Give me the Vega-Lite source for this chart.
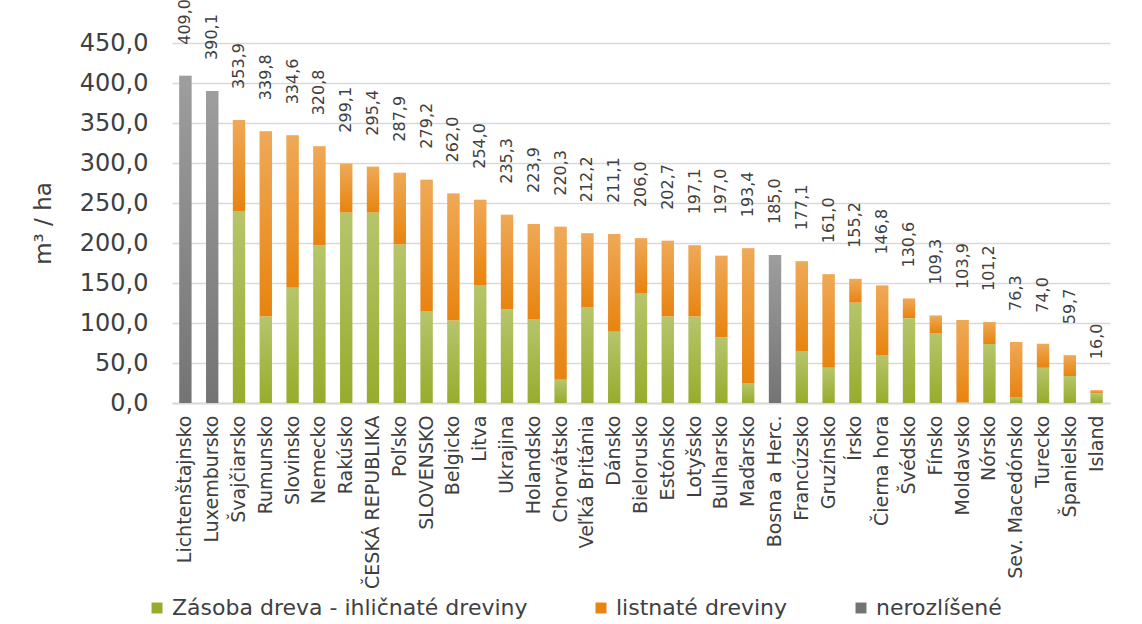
{
  "$schema": "https://vega.github.io/schema/vega-lite/v6.json",
  "width": 938,
  "height": 360,
  "autosize": {"type": "none"},
  "padding": {"left": 172, "top": 43, "right": 32, "bottom": 221},
  "background": "white",
  "config": {
    "font": "DejaVu Sans",
    "view": {"stroke": null},
    "locale": {"number": {"decimal": ",", "thousands": " ", "grouping": [3], "currency": ["", ""]}},
    "axisY": {
      "format": ".1f",
      "titleFontSize": 23,
      "titleFontWeight": "normal",
      "titleColor": "#404040",
      "titlePadding": 24,
      "labelFontSize": 24,
      "labelColor": "#404040",
      "labelPadding": 24,
      "labelOverlap": false,
      "ticks": false,
      "domain": false,
      "gridColor": "#D9D9D9",
      "gridWidth": 1.6
    }
  },
  "datasets": {
    "bars": [
      {"krajina": "Lichtenštajnsko", "typ": "nerozlíšené", "hodnota": 409.0},
      {"krajina": "Luxembursko", "typ": "nerozlíšené", "hodnota": 390.1},
      {"krajina": "Švajčiarsko", "typ": "Zásoba dreva - ihličnaté dreviny", "hodnota": 240.0},
      {"krajina": "Švajčiarsko", "typ": "listnaté dreviny", "hodnota": 113.9},
      {"krajina": "Rumunsko", "typ": "Zásoba dreva - ihličnaté dreviny", "hodnota": 108.0},
      {"krajina": "Rumunsko", "typ": "listnaté dreviny", "hodnota": 231.8},
      {"krajina": "Slovinsko", "typ": "Zásoba dreva - ihličnaté dreviny", "hodnota": 144.0},
      {"krajina": "Slovinsko", "typ": "listnaté dreviny", "hodnota": 190.6},
      {"krajina": "Nemecko", "typ": "Zásoba dreva - ihličnaté dreviny", "hodnota": 197.0},
      {"krajina": "Nemecko", "typ": "listnaté dreviny", "hodnota": 123.8},
      {"krajina": "Rakúsko", "typ": "Zásoba dreva - ihličnaté dreviny", "hodnota": 238.0},
      {"krajina": "Rakúsko", "typ": "listnaté dreviny", "hodnota": 61.1},
      {"krajina": "ČESKÁ REPUBLIKA", "typ": "Zásoba dreva - ihličnaté dreviny", "hodnota": 238.0},
      {"krajina": "ČESKÁ REPUBLIKA", "typ": "listnaté dreviny", "hodnota": 57.4},
      {"krajina": "Poľsko", "typ": "Zásoba dreva - ihličnaté dreviny", "hodnota": 198.0},
      {"krajina": "Poľsko", "typ": "listnaté dreviny", "hodnota": 89.9},
      {"krajina": "SLOVENSKO", "typ": "Zásoba dreva - ihličnaté dreviny", "hodnota": 115.0},
      {"krajina": "SLOVENSKO", "typ": "listnaté dreviny", "hodnota": 164.2},
      {"krajina": "Belgicko", "typ": "Zásoba dreva - ihličnaté dreviny", "hodnota": 103.0},
      {"krajina": "Belgicko", "typ": "listnaté dreviny", "hodnota": 159.0},
      {"krajina": "Litva", "typ": "Zásoba dreva - ihličnaté dreviny", "hodnota": 147.5},
      {"krajina": "Litva", "typ": "listnaté dreviny", "hodnota": 106.5},
      {"krajina": "Ukrajina", "typ": "Zásoba dreva - ihličnaté dreviny", "hodnota": 117.0},
      {"krajina": "Ukrajina", "typ": "listnaté dreviny", "hodnota": 118.3},
      {"krajina": "Holandsko", "typ": "Zásoba dreva - ihličnaté dreviny", "hodnota": 105.0},
      {"krajina": "Holandsko", "typ": "listnaté dreviny", "hodnota": 118.9},
      {"krajina": "Chorvátsko", "typ": "Zásoba dreva - ihličnaté dreviny", "hodnota": 29.0},
      {"krajina": "Chorvátsko", "typ": "listnaté dreviny", "hodnota": 191.3},
      {"krajina": "Veľká Británia", "typ": "Zásoba dreva - ihličnaté dreviny", "hodnota": 120.0},
      {"krajina": "Veľká Británia", "typ": "listnaté dreviny", "hodnota": 92.2},
      {"krajina": "Dánsko", "typ": "Zásoba dreva - ihličnaté dreviny", "hodnota": 89.0},
      {"krajina": "Dánsko", "typ": "listnaté dreviny", "hodnota": 122.1},
      {"krajina": "Bielorusko", "typ": "Zásoba dreva - ihličnaté dreviny", "hodnota": 137.5},
      {"krajina": "Bielorusko", "typ": "listnaté dreviny", "hodnota": 68.5},
      {"krajina": "Estónsko", "typ": "Zásoba dreva - ihličnaté dreviny", "hodnota": 108.0},
      {"krajina": "Estónsko", "typ": "listnaté dreviny", "hodnota": 94.7},
      {"krajina": "Lotyšsko", "typ": "Zásoba dreva - ihličnaté dreviny", "hodnota": 108.0},
      {"krajina": "Lotyšsko", "typ": "listnaté dreviny", "hodnota": 89.1},
      {"krajina": "Bulharsko", "typ": "Zásoba dreva - ihličnaté dreviny", "hodnota": 82.0},
      {"krajina": "Bulharsko", "typ": "listnaté dreviny", "hodnota": 102.0},
      {"krajina": "Maďarsko", "typ": "Zásoba dreva - ihličnaté dreviny", "hodnota": 25.0},
      {"krajina": "Maďarsko", "typ": "listnaté dreviny", "hodnota": 168.4},
      {"krajina": "Bosna a Herc.", "typ": "nerozlíšené", "hodnota": 185.0},
      {"krajina": "Francúzsko", "typ": "Zásoba dreva - ihličnaté dreviny", "hodnota": 65.0},
      {"krajina": "Francúzsko", "typ": "listnaté dreviny", "hodnota": 112.1},
      {"krajina": "Gruzínsko", "typ": "Zásoba dreva - ihličnaté dreviny", "hodnota": 44.0},
      {"krajina": "Gruzínsko", "typ": "listnaté dreviny", "hodnota": 117.0},
      {"krajina": "Írsko", "typ": "Zásoba dreva - ihličnaté dreviny", "hodnota": 125.4},
      {"krajina": "Írsko", "typ": "listnaté dreviny", "hodnota": 29.8},
      {"krajina": "Čierna hora", "typ": "Zásoba dreva - ihličnaté dreviny", "hodnota": 60.0},
      {"krajina": "Čierna hora", "typ": "listnaté dreviny", "hodnota": 86.8},
      {"krajina": "Švédsko", "typ": "Zásoba dreva - ihličnaté dreviny", "hodnota": 106.0},
      {"krajina": "Švédsko", "typ": "listnaté dreviny", "hodnota": 24.6},
      {"krajina": "Fínsko", "typ": "Zásoba dreva - ihličnaté dreviny", "hodnota": 87.5},
      {"krajina": "Fínsko", "typ": "listnaté dreviny", "hodnota": 21.8},
      {"krajina": "Moldavsko", "typ": "Zásoba dreva - ihličnaté dreviny", "hodnota": 0.5},
      {"krajina": "Moldavsko", "typ": "listnaté dreviny", "hodnota": 103.4},
      {"krajina": "Nórsko", "typ": "Zásoba dreva - ihličnaté dreviny", "hodnota": 73.7},
      {"krajina": "Nórsko", "typ": "listnaté dreviny", "hodnota": 27.5},
      {"krajina": "Sev. Macedónsko", "typ": "Zásoba dreva - ihličnaté dreviny", "hodnota": 7.5},
      {"krajina": "Sev. Macedónsko", "typ": "listnaté dreviny", "hodnota": 68.8},
      {"krajina": "Turecko", "typ": "Zásoba dreva - ihličnaté dreviny", "hodnota": 44.0},
      {"krajina": "Turecko", "typ": "listnaté dreviny", "hodnota": 30.0},
      {"krajina": "Španielsko", "typ": "Zásoba dreva - ihličnaté dreviny", "hodnota": 33.7},
      {"krajina": "Španielsko", "typ": "listnaté dreviny", "hodnota": 26.0},
      {"krajina": "Island", "typ": "Zásoba dreva - ihličnaté dreviny", "hodnota": 12.0},
      {"krajina": "Island", "typ": "listnaté dreviny", "hodnota": 4.0}
    ],
    "totals": [
      {"krajina": "Lichtenštajnsko", "spolu": 409.0},
      {"krajina": "Luxembursko", "spolu": 390.1},
      {"krajina": "Švajčiarsko", "spolu": 353.9},
      {"krajina": "Rumunsko", "spolu": 339.8},
      {"krajina": "Slovinsko", "spolu": 334.6},
      {"krajina": "Nemecko", "spolu": 320.8},
      {"krajina": "Rakúsko", "spolu": 299.1},
      {"krajina": "ČESKÁ REPUBLIKA", "spolu": 295.4},
      {"krajina": "Poľsko", "spolu": 287.9},
      {"krajina": "SLOVENSKO", "spolu": 279.2},
      {"krajina": "Belgicko", "spolu": 262.0},
      {"krajina": "Litva", "spolu": 254.0},
      {"krajina": "Ukrajina", "spolu": 235.3},
      {"krajina": "Holandsko", "spolu": 223.9},
      {"krajina": "Chorvátsko", "spolu": 220.3},
      {"krajina": "Veľká Británia", "spolu": 212.2},
      {"krajina": "Dánsko", "spolu": 211.1},
      {"krajina": "Bielorusko", "spolu": 206.0},
      {"krajina": "Estónsko", "spolu": 202.7},
      {"krajina": "Lotyšsko", "spolu": 197.1},
      {"krajina": "Bulharsko", "spolu": 197.0},
      {"krajina": "Maďarsko", "spolu": 193.4},
      {"krajina": "Bosna a Herc.", "spolu": 185.0},
      {"krajina": "Francúzsko", "spolu": 177.1},
      {"krajina": "Gruzínsko", "spolu": 161.0},
      {"krajina": "Írsko", "spolu": 155.2},
      {"krajina": "Čierna hora", "spolu": 146.8},
      {"krajina": "Švédsko", "spolu": 130.6},
      {"krajina": "Fínsko", "spolu": 109.3},
      {"krajina": "Moldavsko", "spolu": 103.9},
      {"krajina": "Nórsko", "spolu": 101.2},
      {"krajina": "Sev. Macedónsko", "spolu": 76.3},
      {"krajina": "Turecko", "spolu": 74.0},
      {"krajina": "Španielsko", "spolu": 59.7},
      {"krajina": "Island", "spolu": 16.0}
    ]
  },
  "encoding": {
    "x": {
      "field": "krajina",
      "type": "nominal",
      "sort": ["Lichtenštajnsko", "Luxembursko", "Švajčiarsko", "Rumunsko", "Slovinsko", "Nemecko", "Rakúsko", "ČESKÁ REPUBLIKA", "Poľsko", "SLOVENSKO", "Belgicko", "Litva", "Ukrajina", "Holandsko", "Chorvátsko", "Veľká Británia", "Dánsko", "Bielorusko", "Estónsko", "Lotyšsko", "Bulharsko", "Maďarsko", "Bosna a Herc.", "Francúzsko", "Gruzínsko", "Írsko", "Čierna hora", "Švédsko", "Fínsko", "Moldavsko", "Nórsko", "Sev. Macedónsko", "Turecko", "Španielsko", "Island"],
      "scale": {"paddingInner": 0.54, "paddingOuter": 0.27},
      "axis": {
        "title": null,
        "labelAngle": -90,
        "labelFontSize": 19,
        "labelColor": "#404040",
        "labelPadding": 12,
        "labelLimit": 300,
        "labelOverlap": false,
        "ticks": false,
        "domainColor": "#D9D9D9",
        "domainWidth": 2
      }
    }
  },
  "layer": [
    {
      "data": {"name": "bars"},
      "mark": {"type": "bar"},
      "encoding": {
        "y": {
          "field": "hodnota",
          "type": "quantitative",
          "stack": "zero",
          "scale": {"domain": [0, 450], "nice": false},
          "axis": {"title": "m³ / ha", "values": [0, 50, 100, 150, 200, 250, 300, 350, 400, 450]}
        },
        "order": {"field": "typ", "sort": "ascending"},
        "color": {
          "field": "typ",
          "type": "nominal",
          "scale": {
            "domain": ["Zásoba dreva - ihličnaté dreviny", "listnaté dreviny", "nerozlíšené"],
            "range": ["#97AC2C", "#E8840F", "#747474"]
          },
          "legend": {
            "orient": "none",
            "legendX": -26,
            "legendY": 554,
            "direction": "horizontal",
            "title": null,
            "symbolType": "square",
            "symbolSize": 120,
            "symbolStrokeWidth": 0,
            "labelFontSize": 22,
            "labelColor": "#404040",
            "labelLimit": 600,
            "labelOffset": 4,
            "columnPadding": 62,
            "padding": 0
          }
        }
      }
    },
    {
      "data": {"name": "bars"},
      "mark": {
        "type": "bar",
        "color": {
          "gradient": "linear",
          "x1": 0, "y1": 0, "x2": 0, "y2": 1,
          "stops": [
            {"offset": 0, "color": "rgba(255,255,255,0.3)"},
            {"offset": 1, "color": "rgba(255,255,255,0)"}
          ]
        }
      },
      "encoding": {
        "y": {
          "field": "hodnota",
          "type": "quantitative",
          "stack": "zero",
          "axis": {"title": "m³ / ha", "values": [0, 50, 100, 150, 200, 250, 300, 350, 400, 450]}
        },
        "order": {"field": "typ", "sort": "ascending"},
        "detail": {"field": "typ"}
      }
    },
    {
      "data": {"name": "totals"},
      "mark": {
        "type": "text",
        "angle": 270,
        "align": "left",
        "baseline": "middle",
        "yOffset": -31,
        "fontSize": 16,
        "color": "#404040"
      },
      "encoding": {
        "y": {
          "field": "spolu",
          "type": "quantitative",
          "axis": {"title": "m³ / ha", "values": [0, 50, 100, 150, 200, 250, 300, 350, 400, 450]}
        },
        "text": {"field": "spolu", "type": "quantitative", "format": ".1f"}
      }
    }
  ]
}
